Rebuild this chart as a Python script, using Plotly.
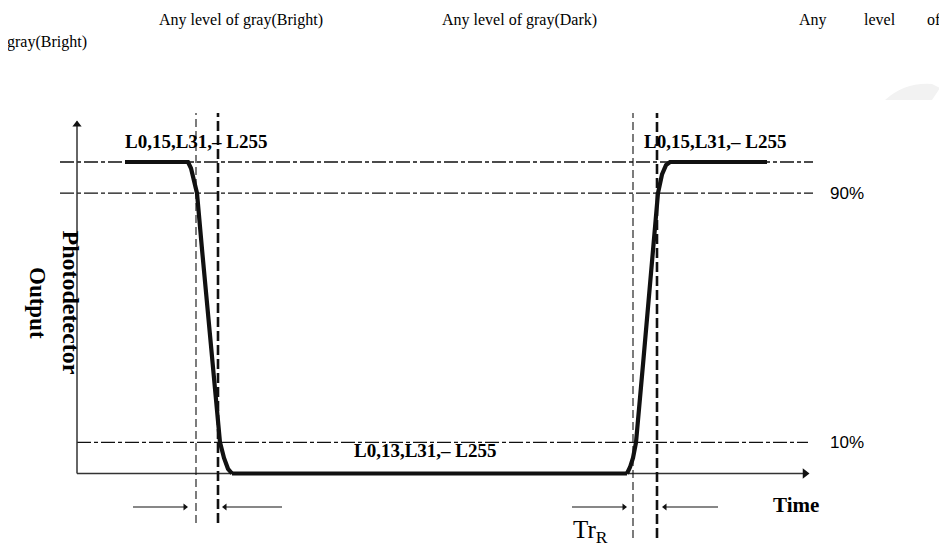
import plotly.graph_objects as go

# ---------------- data ----------------
# photodetector output (%) versus time (arbitrary units)
fall_time = [48, 111, 114, 117, 120, 125, 131, 137, 143, 147, 151, 155]
fall_output = [100, 100, 98, 94, 90, 72, 52, 31, 10, 5, 1.5, 0]
low_time = [155, 550]
low_output = [0, 0]
rise_time = [550, 553, 556, 559, 566, 573, 581, 585, 589, 593, 690]
rise_output = [0, 2, 5, 10, 35, 62, 90, 96, 99, 100, 100]

level_labels = ["L0,15,L31,\u2013 L255", "L0,13,L31,\u2013 L255", "L0,15,L31,\u2013 L255"]
ref_levels = [100, 90, 10]
ref_level_text = ["", "90%", "10%"]
thin_markers = [119, 556]      # 90% crossing (fall), 10% crossing (rise)
thick_markers = [141, 580]     # 10% crossing (fall), 90% crossing (rise)
header_texts = ["Any level of gray(Bright)", "Any level of gray(Dark)"]

W, H = 947, 549      # window size
OFF = 8              # page body margin
FW, FH = W - OFF, H - OFF
X0 = 77.0            # window pixel of time 0
Y0 = 473.5           # window pixel of output 0
SY = 3.115           # pixels per percent
xr = [OFF - X0, W - X0]
yr = [(Y0 - H) / SY, (Y0 - OFF) / SY]

BLACK = "#111111"
SERIF = "Liberation Serif, Times New Roman, serif"
SANS = "Liberation Sans, Arial, sans-serif"

fig = go.Figure()

def line(x, y, width=1.2, dash="solid", color=BLACK):
    fig.add_trace(go.Scatter(x=x, y=y, mode="lines", hoverinfo="skip",
                             line=dict(color=color, width=width, dash=dash),
                             showlegend=False))

def mark(x, y, symbol, size):
    fig.add_trace(go.Scatter(x=[x], y=[y], mode="markers", hoverinfo="skip",
                             marker=dict(symbol=symbol, size=size, color=BLACK,
                                         line=dict(width=0)),
                             showlegend=False))

# reference levels (dash-dot)
dd = "14px,3px,4px,3px"
line([-17, 736], [ref_levels[0]] * 2, 1.3, dd)
line([-17, 736], [ref_levels[1]] * 2, 1.1, dd)
line([0, 731], [ref_levels[2]] * 2, 1.1, dd)

# axes with arrows
line([0, 0], [0, 113], 1.5, "solid", "#333333")
mark(0, 112, "triangle-up", 8)
line([0, 728], [0, 0], 1.5, "solid", "#333333")
mark(728, 0, "triangle-right", 9)

# vertical timing markers
for t in thin_markers:
    top, bot = 115.7, (-15.9 if t < 300 else -20.7)
    line([t, t], [bot, top], 1.1, "8px,4px")
for t in thick_markers:
    top, bot = 115.7, (-15.9 if t < 300 else -20.7)
    line([t, t], [bot, top], 2.6, "10px,4px")

# waveform
line(fall_time, fall_output, 4.2)
line(low_time, low_output, 4.2)
line(rise_time, rise_output, 4.2)

# timing dimension arrows
ya = -10.75
line([56, 110], [ya, ya], 1.2)
mark(108, ya, "triangle-right", 6)
line([147, 205], [ya, ya], 1.2)
mark(148, ya, "triangle-left", 6)
line([495, 549], [ya, ya], 1.2)
mark(547, ya, "triangle-right", 6)
line([587, 641], [ya, ya], 1.2)
mark(588, ya, "triangle-left", 6)

ann = []
def text(x, y, s, size, family=SERIF, xanchor="center", angle=0, color="#000"):
    ann.append(dict(x=x, y=y, xref="x", yref="y", text=s, showarrow=False,
                    xanchor=xanchor, yanchor="middle", textangle=angle,
                    font=dict(family=family, size=size, color=color)))

text(119.5, 106.7, "<b>" + level_labels[0] + "</b>", 19)
text(348, 7.5, "<b>" + level_labels[1] + "</b>", 19)
text(638, 106.7, "<b>" + level_labels[2] + "</b>", 19)
text(751, 90, ref_level_text[1], 17, SANS, "left")
text(751, 10, ref_level_text[2], 17, SANS, "left")
text(694, -10.1, "<b>Time</b>", 21, xanchor="left")
text(494, -18.5, "Tr<sub>R</sub>", 25, xanchor="left")
text(-6, 54.9, "<b>Photodetector</b>", 24, angle=90)
text(-39.5, 54.9, "<b>Output</b>", 23, angle=90)

# header
def ptext(px, py, s, xanchor="left"):
    ann.append(dict(x=(px - OFF) / FW, y=1 - (py - OFF) / FH, xref="paper", yref="paper",
                    text=s, showarrow=False, xanchor=xanchor, yanchor="middle",
                    font=dict(family=SERIF, size=16, color="#000")))

ptext(157, 20, header_texts[0])
ptext(440, 20, header_texts[1])
ptext(797, 20, "Any")
ptext(862, 20, "level")
ptext(943, 20, "of", "right")
ptext(5, 42, "gray(Bright)")

def p(px, py):
    return f"{(px - OFF) / FW:.4f},{1 - (py - OFF) / FH:.4f}"

shapes = [
    dict(type="path", xref="paper", yref="paper",
         path=f"M {p(885,100)} Q {p(905,82)} {p(932,84)} L {p(940,88)} L {p(932,100)} Z",
         fillcolor="#f2f2f2", line=dict(width=0), layer="below"),
    dict(type="path", xref="paper", yref="paper",
         path=f"M {p(947,43)} Q {p(938,62)} {p(947,83)} Z",
         fillcolor="#f2f2f2", line=dict(width=0), layer="below"),
]

fig.update_layout(
    width=FW, height=FH, margin=dict(l=0, r=0, t=0, b=0),
    paper_bgcolor="white", plot_bgcolor="white",
    xaxis=dict(range=xr, visible=False, domain=[0, 1]),
    yaxis=dict(range=yr, visible=False, domain=[0, 1]),
    annotations=ann, shapes=shapes, showlegend=False,
)

fig.write_html("out.html")
